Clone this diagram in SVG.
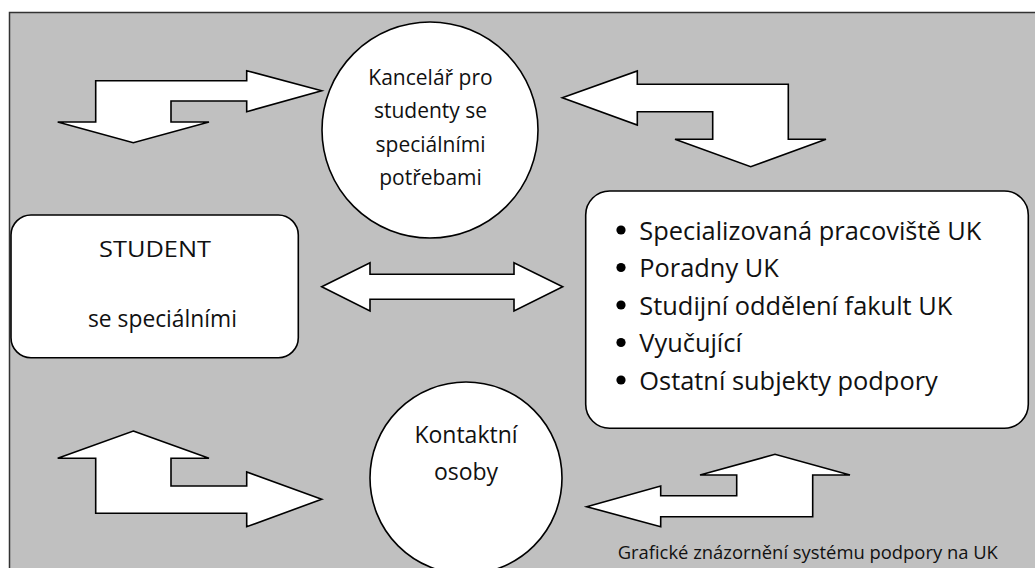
<svg xmlns="http://www.w3.org/2000/svg" width="1035" height="568" viewBox="0 0 1035 568">
<style>
.bg{fill:#C0C0C0;stroke:#333;stroke-width:1.5}
.shape{fill:#fff;stroke:#000;stroke-width:1.6;stroke-linejoin:miter}
.arrow{fill:#fff;stroke:#000;stroke-width:1.6;stroke-linejoin:miter}
text{font-family:"Open Sans","Noto Sans",sans-serif;fill:#111}
.c{text-anchor:middle}
</style>
<rect class="bg" x="9.5" y="12.5" width="1040" height="570"/>
<g id="connectors">
<polygon class="arrow" points="95.7,80.7 246.7,80.7 246.7,70.7 321.7,90.7 246.7,111.7 246.7,101 171,101 171,122 209,122 133.3,142.7 57.7,122 95.7,122"/>
<polygon class="arrow" points="562.3,97.7 637.3,71 637.3,84.3 788.3,84.3 788.3,139.3 826,139.3 750.7,166.7 675,139.3 712.7,139.3 712.7,111.7 637.3,111.7 637.3,125"/>
<polygon class="arrow" points="133.3,431 209,458.3 171,458.3 171,486 246.7,486 246.7,472 321.7,499.3 246.7,526.7 246.7,513.3 95.7,513.3 95.7,458.3 57.7,458.3"/>
<polygon class="arrow" points="586.7,506.7 660.7,486 660.7,495.7 736.7,495.7 736.7,475 700,475 775,454.3 850,475 812.7,475 812.7,516.7 660.7,516.7 660.7,526.7"/>
<polygon class="arrow" points="321.7,286.7 370,262.7 370,274.3 514,274.3 514,262.7 562.7,286.7 514,311 514,299.3 370,299.3 370,311"/>
</g>
<g id="kancelar">
<circle class="shape" cx="430" cy="130" r="108"/>
<text class="c" x="430.5" y="85" font-size="21">Kancelář pro</text>
<text class="c" x="430.5" y="118.3" font-size="21">studenty se</text>
<text class="c" x="430.5" y="151.7" font-size="21">speciálními</text>
<text class="c" x="430.5" y="185" font-size="21">potřebami</text>
</g>
<g id="student">
<rect class="shape" x="11" y="215" width="287.3" height="142.7" rx="20" ry="20"/>
<text x="99" y="257.3" font-size="22" textLength="112" lengthAdjust="spacingAndGlyphs">STUDENT</text>
<text x="88" y="326.7" font-size="22.8">se speciálními</text>
</g>
<g id="podpora">
<rect class="shape" x="585.7" y="191" width="442.6" height="237.3" rx="24" ry="24"/>
<circle cx="621" cy="230" r="4.6" fill="#000"/>
<circle cx="621" cy="267.5" r="4.6" fill="#000"/>
<circle cx="621" cy="305" r="4.6" fill="#000"/>
<circle cx="621" cy="342.5" r="4.6" fill="#000"/>
<circle cx="621" cy="380" r="4.6" fill="#000"/>
<text x="639.3" y="239.5" font-size="25.4">Specializovaná pracoviště UK</text>
<text x="639.3" y="277" font-size="25.4">Poradny UK</text>
<text x="639.3" y="314.5" font-size="25.4">Studijní oddělení fakult UK</text>
<text x="639.3" y="352" font-size="25.4">Vyučující</text>
<text x="639.3" y="389.5" font-size="25.4">Ostatní subjekty podpory</text>
</g>
<g id="kontaktni">
<circle class="shape" cx="466" cy="478" r="96"/>
<text class="c" x="466" y="443.3" font-size="23">Kontaktní</text>
<text class="c" x="466" y="480" font-size="23">osoby</text>
</g>
<g id="caption">
<text x="617.7" y="559.3" font-size="18.4">Grafické znázornění systému podpory na UK</text>
</g>
</svg>
